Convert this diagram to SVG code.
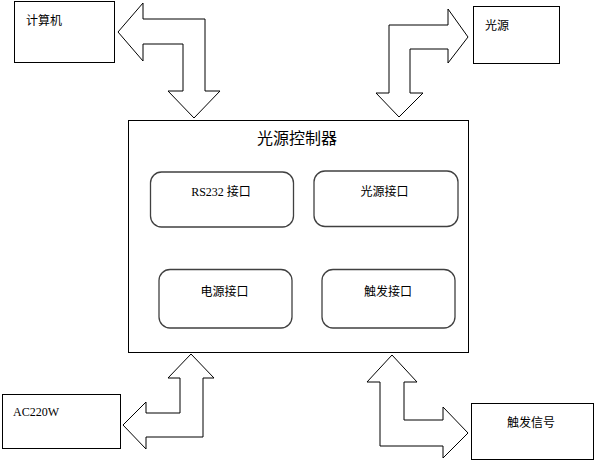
<svg xmlns="http://www.w3.org/2000/svg" width="598" height="471" viewBox="0 0 598 471">
<style>
.box{fill:#fff;stroke:#000;stroke-width:1}
.inner{fill:#fff;stroke:#404040;stroke-width:1.3}
.arr{fill:#fff;stroke:#000;stroke-width:1;stroke-linejoin:miter}
.cjk{font-family:"Noto Sans CJK SC","Noto Sans",sans-serif;font-size:12px;fill:#000}
.ser{font-family:"Liberation Serif","Noto Sans CJK SC",serif;font-size:12px;fill:#000}
</style>
<rect width="598" height="471" fill="#fff"/>
<g id="connectors">
<polygon class="arr" points="118,32 143,3 143,19 205,19 205,91 220,91 194,118 168,91 183,91 183,44 143,44 143,61"/>
<polygon class="arr" points="468,37 448,9 448,25 389,25 389,93 376,93 399,117 423,93 410,93 410,49 448,49 448,63"/>
<polygon class="arr" points="191,354 214,378 203,378 203,437 146,437 146,449 123,425 146,402 146,413 180,413 180,378 168,378"/>
<polygon class="arr" points="392,355 417,382 404,382 404,420 443,420 443,407 468,433 443,458 443,446 380,446 380,382 367,382"/>
</g>
<g id="computer">
<rect class="box" x="14.5" y="1.5" width="100" height="61"/>
<text class="cjk" x="26" y="25">计算机</text>
</g>
<g id="lightsource">
<rect class="box" x="473.5" y="6.5" width="86" height="57"/>
<text class="cjk" x="485" y="30">光源</text>
</g>
<g id="ac220w">
<rect class="box" x="2.5" y="394.5" width="118" height="54"/>
<text class="ser" x="13" y="416">AC220W</text>
</g>
<g id="trigger">
<rect class="box" x="471.5" y="403.5" width="122" height="56"/>
<text class="cjk" x="531" y="427" text-anchor="middle">触发信号</text>
</g>
<g id="controller">
<rect class="box" x="128.5" y="120.5" width="340" height="232"/>
<text class="cjk" x="297" y="144" text-anchor="middle" style="font-size:16px">光源控制器</text>
</g>
<g id="rs232">
<rect class="inner" x="150.5" y="172" width="143" height="55" rx="11"/>
<text x="221" y="196" text-anchor="middle"><tspan class="ser">RS232 </tspan><tspan class="cjk">接口</tspan></text>
</g>
<g id="lightport">
<rect class="inner" x="314" y="171" width="144" height="55.5" rx="11"/>
<text class="cjk" x="384.5" y="196" text-anchor="middle">光源接口</text>
</g>
<g id="powerport">
<rect class="inner" x="159" y="269.5" width="133" height="58.5" rx="11"/>
<text class="cjk" x="224.5" y="296" text-anchor="middle">电源接口</text>
</g>
<g id="triggerport">
<rect class="inner" x="322" y="269.5" width="133" height="58.5" rx="11"/>
<text class="cjk" x="388" y="296" text-anchor="middle">触发接口</text>
</g>
</svg>
